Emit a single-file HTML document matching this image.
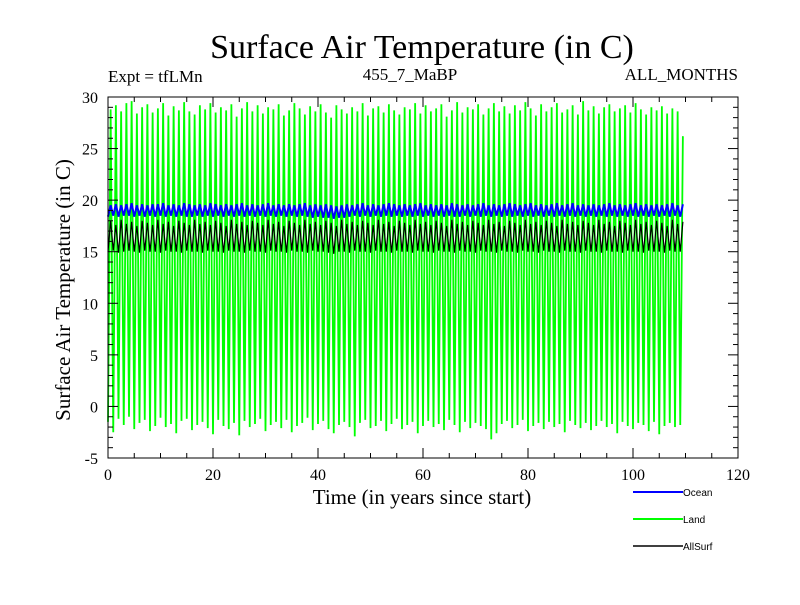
<!DOCTYPE html>
<html><head><meta charset="utf-8"><style>
body{margin:0;background:#fff}
text{font-family:"Liberation Serif",serif}
</style></head><body>
<svg width="800" height="600" id="svg">
<rect width="800" height="600" fill="#fff"/>
<text x="422" y="58" font-size="34" text-anchor="middle">Surface Air Temperature (in C)</text>
<text x="108" y="82" font-size="17">Expt = tfLMn</text>
<text x="410" y="80" font-size="17" text-anchor="middle">455_7_MaBP</text>
<text x="738" y="80" font-size="17" text-anchor="end">ALL_MONTHS</text>
<text x="422" y="504" font-size="21" text-anchor="middle">Time (in years since start)</text>
<text transform="translate(70,290) rotate(-90)" font-size="21" text-anchor="middle">Surface Air Temperature (in C)</text>
<g id="plot"></g>
<g id="axes"></g>
<g font-size="10">
<line x1="633" y1="492" x2="683" y2="492" stroke="#0000ff" stroke-width="2"/><text x="683" y="496" style="font-family:'Liberation Sans',sans-serif">Ocean</text>
<line x1="633" y1="519" x2="683" y2="519" stroke="#00ff00" stroke-width="2"/><text x="683" y="523" style="font-family:'Liberation Sans',sans-serif">Land</text>
<line x1="633" y1="546" x2="683" y2="546" stroke="#000" stroke-width="1.5"/><text x="683" y="550" style="font-family:'Liberation Sans',sans-serif">AllSurf</text>
</g>
</svg>
<script>
const xTicks=[0,20,40,60,80,100,120];
const yTicks=[-5,0,5,10,15,20,25,30];
const landMax=[28.8,29.2,28.6,29.4,29.6,28.4,29.0,29.3,28.5,28.9,29.4,28.2,29.1,28.7,29.5,28.6,28.3,29.2,28.8,29.4,28.5,29.0,28.7,29.3,28.1,28.9,29.5,28.6,29.2,28.4,29.0,28.8,29.3,28.2,28.7,29.4,28.9,28.3,29.1,28.6,29.3,28.5,28.0,29.2,28.8,28.4,29.0,28.6,29.4,28.2,28.9,29.1,28.5,29.3,28.7,28.3,29.0,28.8,29.4,28.4,29.2,28.6,28.9,29.3,28.1,28.7,29.5,28.5,29.0,28.8,29.3,28.3,28.9,29.4,28.6,29.1,28.4,29.2,28.7,29.5,28.9,28.2,29.3,28.6,29.0,29.4,28.5,28.8,29.2,28.3,29.6,28.7,29.1,28.4,29.0,29.3,28.6,28.9,29.2,28.5,29.4,28.8,28.3,29.0,28.7,29.1,28.4,28.9,28.6,26.2];
const landMin=[-1.5,-2.5,-1.2,-1.8,-1.0,-2.2,-1.6,-1.3,-2.4,-1.9,-1.1,-2.0,-1.7,-2.6,-1.4,-1.2,-2.3,-1.8,-1.5,-2.1,-2.7,-1.3,-1.9,-2.2,-1.6,-2.8,-1.4,-2.0,-1.7,-1.2,-2.4,-1.8,-1.5,-2.1,-1.3,-2.5,-1.9,-1.6,-1.1,-2.3,-1.7,-1.4,-2.2,-2.6,-1.8,-1.5,-2.0,-2.9,-1.6,-1.3,-2.1,-1.9,-1.4,-2.4,-1.7,-1.2,-2.2,-1.8,-1.5,-2.6,-1.9,-1.4,-2.0,-1.7,-2.3,-1.3,-1.8,-2.5,-1.5,-2.1,-1.6,-1.9,-2.2,-3.2,-2.6,-1.7,-1.4,-2.1,-1.8,-1.3,-2.4,-1.9,-1.6,-2.2,-1.5,-2.0,-1.7,-2.5,-1.4,-1.8,-2.1,-1.6,-2.3,-1.9,-1.4,-2.0,-1.7,-2.6,-1.5,-1.9,-2.2,-1.6,-1.8,-2.4,-1.5,-2.7,-1.9,-1.6,-2.0,-1.8];
const oceanMax=[19.5,19.6,19.5,19.6,19.7,19.5,19.6,19.5,19.6,19.6,19.7,19.5,19.6,19.5,19.7,19.6,19.5,19.6,19.5,19.7,19.6,19.5,19.6,19.5,19.6,19.7,19.5,19.6,19.5,19.6,19.7,19.5,19.6,19.5,19.6,19.5,19.6,19.7,19.5,19.6,19.5,19.6,19.5,19.4,19.5,19.6,19.5,19.6,19.7,19.5,19.6,19.5,19.6,19.7,19.6,19.5,19.6,19.5,19.6,19.7,19.5,19.6,19.5,19.6,19.5,19.7,19.6,19.5,19.6,19.5,19.6,19.7,19.5,19.6,19.5,19.6,19.7,19.6,19.5,19.6,19.7,19.5,19.6,19.5,19.6,19.7,19.5,19.6,19.7,19.5,19.6,19.5,19.6,19.5,19.6,19.7,19.5,19.6,19.5,19.6,19.7,19.5,19.6,19.5,19.6,19.5,19.6,19.7,19.5,19.6];
const oceanMin=[18.4,18.5,18.4,18.5,18.5,18.4,18.5,18.4,18.5,18.4,18.5,18.4,18.5,18.4,18.5,18.4,18.4,18.5,18.4,18.5,18.4,18.5,18.4,18.5,18.4,18.5,18.4,18.5,18.4,18.5,18.4,18.5,18.4,18.5,18.4,18.5,18.4,18.5,18.4,18.3,18.4,18.3,18.3,18.2,18.3,18.3,18.4,18.5,18.4,18.5,18.4,18.5,18.4,18.5,18.4,18.5,18.4,18.5,18.4,18.5,18.4,18.5,18.4,18.5,18.4,18.5,18.4,18.4,18.5,18.4,18.5,18.4,18.5,18.4,18.5,18.4,18.5,18.4,18.5,18.4,18.5,18.4,18.5,18.4,18.5,18.4,18.5,18.4,18.5,18.4,18.5,18.4,18.5,18.4,18.5,18.4,18.5,18.4,18.5,18.4,18.5,18.4,18.5,18.4,18.5,18.4,18.5,18.4,18.5,18.4];
const allMax=[18.0,17.6,18.1,17.7,17.9,17.5,18.0,17.8,17.6,18.1,17.7,17.9,17.5,18.0,17.8,17.6,18.1,17.7,17.9,17.6,18.0,17.8,17.5,18.1,17.7,17.9,17.6,18.0,17.8,17.6,18.1,17.7,17.9,17.5,18.0,17.8,17.6,18.1,17.7,17.9,17.6,18.0,17.8,17.5,18.1,17.7,17.9,17.6,18.0,17.8,17.6,18.1,17.7,17.9,17.5,18.0,17.8,17.6,18.1,17.7,17.9,17.6,18.0,17.8,17.5,18.1,17.7,17.9,17.6,18.0,17.8,17.6,18.1,17.7,17.9,17.5,18.0,17.8,17.6,18.1,17.7,17.9,17.6,18.0,17.8,17.5,18.1,17.7,17.9,17.6,18.0,17.8,17.6,18.1,17.7,17.9,17.5,18.0,17.8,17.6,18.1,17.7,17.9,17.6,18.0,17.8,17.5,18.1,17.7,17.9];
const allMin=[15.0,15.1,14.9,15.0,15.1,15.0,14.9,15.1,15.0,15.0,14.9,15.1,15.0,15.0,14.9,15.1,15.0,15.0,14.9,15.1,15.0,15.0,14.9,15.1,15.0,15.0,14.9,15.1,15.0,15.0,14.9,15.1,15.0,15.0,14.9,15.1,15.0,15.0,14.9,15.1,15.0,15.0,14.9,14.8,15.0,15.0,14.9,15.1,15.0,15.0,14.9,15.1,15.0,15.0,14.9,15.1,15.0,15.0,14.9,15.1,15.0,15.0,14.9,15.1,15.0,15.0,14.9,15.1,15.0,15.0,14.9,15.1,15.0,15.0,14.9,15.1,15.0,15.0,14.9,15.1,15.0,15.0,14.9,15.1,15.0,15.0,14.9,15.1,15.0,15.0,14.9,15.1,15.0,15.0,14.9,15.1,15.0,15.0,14.9,15.1,15.0,15.0,14.9,15.1,15.0,15.0,14.9,15.1,15.0,15.0];

const L=108,R=738,T=97,B=458;
const X=v=>L+(v-0)/(120-0)*(R-L);
const Y=v=>B-(v-(-5))/(30-(-5))*(B-T);
const NS='http://www.w3.org/2000/svg';
const plot=document.getElementById('plot'), axes=document.getElementById('axes');
function mk(tag,attrs,parent){const e=document.createElementNS(NS,tag);for(const k in attrs)e.setAttribute(k,attrs[k]);parent.appendChild(e);return e;}

function series(maxA,minA,color,w,name){
  let d='';
  for(let i=0;i<maxA.length;i++){
    d+=(i?'L':'M')+X(i).toFixed(2)+','+Y(minA[i]).toFixed(2);
    d+='L'+X(i+0.5).toFixed(2)+','+Y(maxA[i]).toFixed(2);
  }
  const p=mk('path',{d:d,fill:'none',stroke:color,'stroke-width':w},plot);
  
  
}
series(landMax,landMin,'#00ff00',1.8,'land-line');
series(allMax,allMin,'#000000',1.2,'allsurf-line');
series(oceanMax,oceanMin,'#0000ff',2,'ocean-line');

const fr=mk('rect',{x:L,y:T,width:R-L,height:B-T,fill:'none',stroke:'#000','stroke-width':1},axes);


for(let v=0;v<=120;v+=5){
  const len=v%20===0?10:5;
  mk('line',{x1:X(v),x2:X(v),y1:B,y2:B-len,stroke:'#000'},axes);
  mk('line',{x1:X(v),x2:X(v),y1:T,y2:T+len,stroke:'#000'},axes);
}
for(let v=-5;v<=30;v+=1){
  const len=v%5===0?10:5;
  mk('line',{x1:L,x2:L+len,y1:Y(v),y2:Y(v),stroke:'#000'},axes);
  mk('line',{x1:R,x2:R-len,y1:Y(v),y2:Y(v),stroke:'#000'},axes);
}
xTicks.forEach(v=>{
  const t=mk('text',{x:X(v),y:B+22,'font-size':16,'text-anchor':'middle'},axes);
  t.textContent=v;
  
  
});
yTicks.forEach(v=>{
  const t=mk('text',{x:L-10,y:Y(v)+6,'font-size':16,'text-anchor':'end'},axes);
  t.textContent=v;
  
  
});
</script>
</body></html>
